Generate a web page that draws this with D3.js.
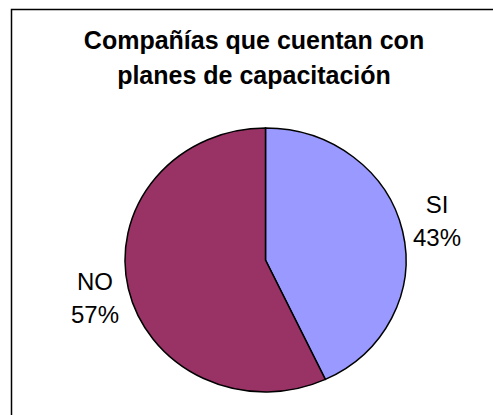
<!DOCTYPE html>
<html>
<head>
<meta charset="utf-8">
<script src="https://cdn.jsdelivr.net/npm/d3@7"></script>
<style>
  body { margin: 0; background: #fff; }
  text { font-family: 'Liberation Sans', Arial, sans-serif; }
</style>
</head>
<body>
<div id="chart"></div>
<script>
let titleLines = ['Compañías que cuentan con', 'planes de capacitación']
let categories = ['SI', 'NO']
let values = [43, 57]
let colors = ['#9999FF', '#993366']

let width = 493
let height = 415
let cx = 265.5
let cy = 260
let rx = 140.5
let ry = 132

let svg = d3.select('#chart')
  .append('svg')
  .attr('width', width)
  .attr('height', height)

svg.append('rect')
  .attr('width', width)
  .attr('height', height)
  .attr('fill', '#ffffff')

// chart area border (only top and left visible in frame)
svg.append('path')
  .attr('d', 'M11.5,' + height + 'V9.5H' + width)
  .attr('fill', 'none')
  .attr('stroke', '#000')
  .attr('stroke-width', 1.5)

svg.append('g')
  .selectAll('text')
  .data(titleLines)
  .enter()
  .append('text')
  .attr('x', 254)
  .attr('y', function (d, i) { return 49 + i * 35 })
  .attr('text-anchor', 'middle')
  .attr('font-size', 25)
  .attr('font-weight', 'bold')
  .text(function (d) { return d })

let pie = d3.pie().sort(null).value(function (d) { return d })
let arcs = pie(values)
let arc = d3.arc().innerRadius(0).outerRadius(ry)

let pieG = svg.append('g')
  .attr('transform', 'translate(' + cx + ',' + cy + ') scale(' + (rx / ry) + ',1)')

pieG.selectAll('path')
  .data(arcs)
  .enter()
  .append('path')
  .attr('d', arc)
  .attr('fill', function (d, i) { return colors[i] })
  .attr('stroke', '#000')
  .attr('stroke-width', 1.5)
  .attr('vector-effect', 'non-scaling-stroke')

let total = d3.sum(values)
let labelPos = [[437, 213], [95, 290]]

let labels = svg.append('g')
  .selectAll('text')
  .data(arcs)
  .enter()
  .append('text')
  .attr('text-anchor', 'middle')
  .attr('font-size', 24)

labels.append('tspan')
  .attr('x', function (d, i) { return labelPos[i][0] })
  .attr('y', function (d, i) { return labelPos[i][1] })
  .text(function (d, i) { return categories[i] })

labels.append('tspan')
  .attr('x', function (d, i) { return labelPos[i][0] })
  .attr('y', function (d, i) { return labelPos[i][1] + 33 })
  .text(function (d) { return Math.round(d.value / total * 100) + '%' })
</script>
</body>
</html>
